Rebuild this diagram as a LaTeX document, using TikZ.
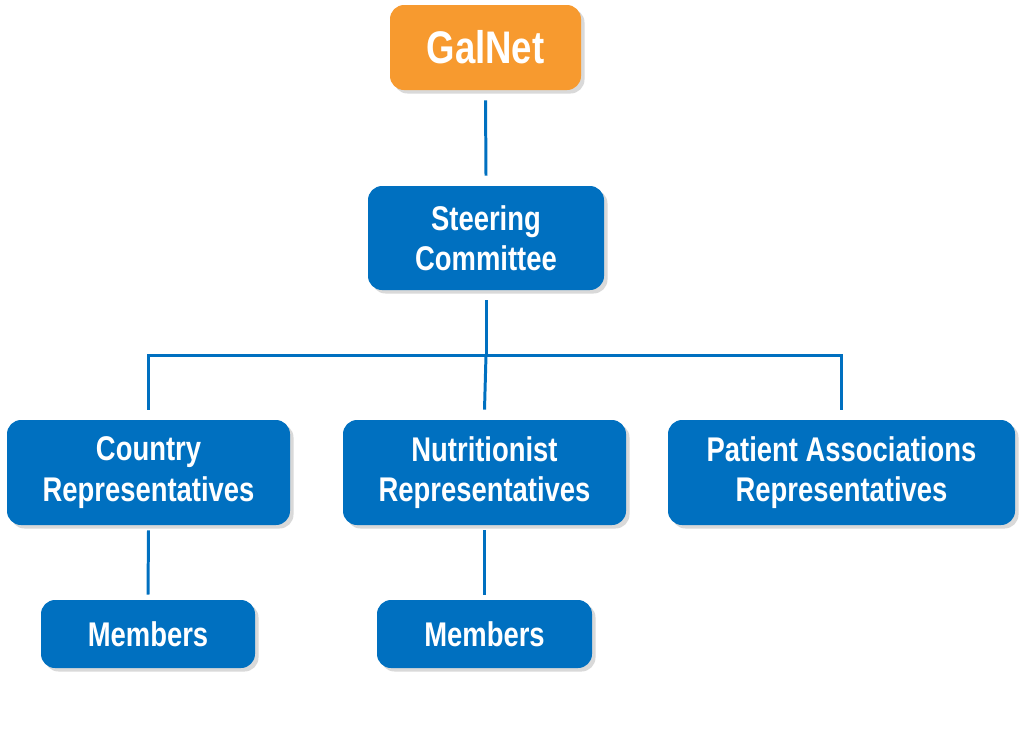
\documentclass[tikz,border=0pt]{standalone}
\usepackage{fontspec}
\setmainfont{Liberation Sans}[FakeStretch=0.8]
\usetikzlibrary{shadows}
\definecolor{bl}{HTML}{0070C0}
\definecolor{og}{HTML}{F79A2F}
\begin{document}
\begin{tikzpicture}[x=0.02cm,y=-0.02cm,
 box/.style={rectangle,rounded corners=8pt,fill=bl,text=white,font=\fontsize{19.5pt}{23pt}\selectfont\bfseries,align=center,inner sep=0pt,drop shadow={shadow xshift=2pt,shadow yshift=-2pt,opacity=0.3}},
 ln/.style={draw=bl,line width=1.7pt}]
\useasboundingbox (0,0) rectangle (1024,728);
\node[box,fill=og,minimum width=191*0.02cm,minimum height=85*0.02cm,font=\fontsize{26pt}{30pt}\selectfont\bfseries] (g) at (485.5,47.5) {GalNet};
\node[box,minimum width=236*0.02cm,minimum height=104*0.02cm] (s) at (486,238) {Steering\\Committee};
\node[box,minimum width=283*0.02cm,minimum height=105*0.02cm] (c) at (148.5,472.5) {Country\\Representatives};
\node[box,minimum width=283*0.02cm,minimum height=105*0.02cm] (n) at (484.5,472.5) {Nutritionist\\Representatives};
\node[box,minimum width=347*0.02cm,minimum height=105*0.02cm] (p) at (841.5,472.5) {Patient Associations\\Representatives};
\node[box,minimum width=214*0.02cm,minimum height=68*0.02cm] (m1) at (148,634) {Members};
\node[box,minimum width=215*0.02cm,minimum height=68*0.02cm] (m2) at (484.5,634) {Members};
\coordinate (h) at (486,355);
\draw[ln] ([yshift=-10*0.02cm]g.south) -- ([yshift=10*0.02cm]s.south |- s.north);
\draw[ln] ([yshift=-10*0.02cm]s.south) -- (h);
\draw[ln] ([yshift=10*0.02cm]c.north) -- (c.north |- h) -- (p.north |- h) -- ([yshift=10*0.02cm]p.north);
\draw[ln] (h) -- ([yshift=10*0.02cm]n.north);
\draw[ln] ([yshift=-5*0.02cm]c.south) -- ([yshift=5*0.02cm]m1.north);
\draw[ln] ([yshift=-5*0.02cm]n.south) -- ([yshift=5*0.02cm]m2.north);
\end{tikzpicture}
\end{document}
